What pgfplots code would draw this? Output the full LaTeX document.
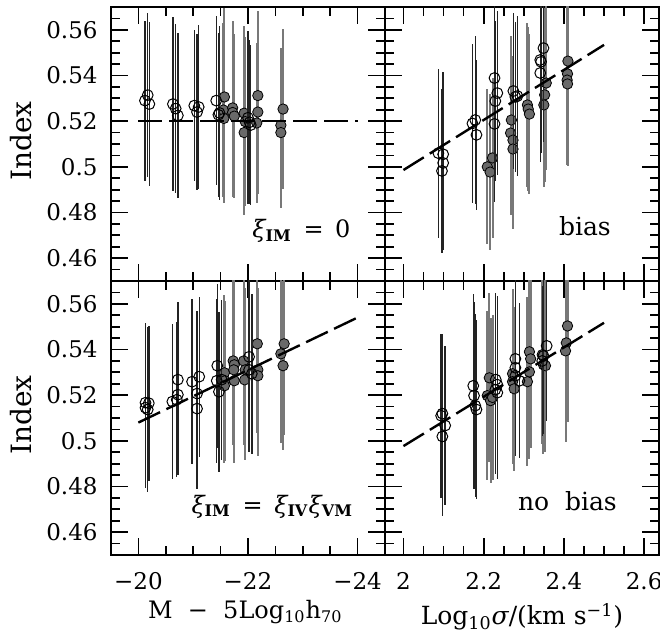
\documentclass[border=0pt]{standalone}
\usepackage{fontspec}
\setmainfont{DejaVu Serif}
\usepackage{pgfplots}
\usepackage{pgfplotstable}
\pgfplotsset{compat=1.18}

\definecolor{dotgray}{RGB}{105,105,105}
\definecolor{bargray}{RGB}{120,120,120}
\definecolor{bardark}{RGB}{35,35,35}

\newcommand\tfont{\fontsize{11.5}{13}\selectfont}

% top-left: xi_IM = 0
\pgfplotstableread{
x y e
-20.17 0.5314 0.036
-20.20 0.5275 0.036
-20.12 0.5290 0.035
-20.63 0.5275 0.038
-20.68 0.5255 0.037
-20.72 0.5225 0.036
-21.02 0.5268 0.033
-21.10 0.5262 0.036
-21.07 0.5240 0.034
-21.42 0.5290 0.037
-21.48 0.5236 0.038
-21.46 0.5228 0.036
-22.00 0.5215 0.038
-22.03 0.5195 0.036
-22.05 0.5183 0.035
}\tlo
\pgfplotstableread{
x y e
-21.57 0.5306 0.039
-21.55 0.5249 0.038
-21.56 0.5212 0.037
-21.72 0.5258 0.038
-21.72 0.5238 0.037
-21.75 0.5222 0.036
-21.93 0.5235 0.038
-21.95 0.5198 0.037
-21.93 0.5150 0.036
-22.18 0.5312 0.037
-22.18 0.5240 0.036
-22.16 0.5192 0.035
-22.64 0.5253 0.035
-22.60 0.5182 0.034
-22.60 0.5150 0.033
}\tlf
% top-right: bias
\pgfplotstableread{
x y e
2.087 0.5060 0.037
2.099 0.5055 0.036
2.099 0.5017 0.038
2.096 0.4982 0.036
2.172 0.5190 0.035
2.179 0.5205 0.037
2.182 0.5140 0.033
2.227 0.5389 0.037
2.234 0.5323 0.036
2.229 0.5288 0.035
2.227 0.5188 0.034
2.274 0.5332 0.034
2.284 0.5310 0.035
2.279 0.5306 0.033
2.349 0.5520 0.041
2.341 0.5468 0.040
2.343 0.5460 0.040
2.341 0.5411 0.039
}\tro
\pgfplotstableread{
x y e
2.209 0.5000 0.034
2.216 0.4977 0.034
2.222 0.5039 0.035
2.269 0.5205 0.037
2.267 0.5148 0.036
2.273 0.5117 0.037
2.273 0.5078 0.035
2.309 0.5271 0.036
2.311 0.5253 0.036
2.314 0.5231 0.035
2.356 0.5367 0.038
2.352 0.5315 0.038
2.350 0.5271 0.036
2.410 0.5463 0.040
2.409 0.5407 0.038
2.408 0.5380 0.037
2.409 0.5363 0.036
}\trf
% bottom-left: xi_IM = xi_IV xi_VM
\pgfplotstableread{
x y e
-20.13 0.5167 0.035
-20.19 0.5165 0.034
-20.13 0.5145 0.035
-20.17 0.5137 0.036
-20.62 0.5172 0.034
-20.70 0.5180 0.034
-20.72 0.5202 0.035
-20.72 0.5268 0.034
-20.98 0.5259 0.036
-21.11 0.5281 0.035
-21.07 0.5207 0.036
-21.07 0.5141 0.035
-21.44 0.5329 0.036
-21.43 0.5263 0.036
-21.47 0.5215 0.035
-21.52 0.5268 0.035
-22.02 0.5368 0.036
-22.02 0.5311 0.036
-22.07 0.5294 0.035
}\blo
\pgfplotstableread{
x y e
-21.57 0.5298 0.034
-21.58 0.5263 0.035
-21.57 0.5241 0.034
-21.73 0.5350 0.037
-21.75 0.5333 0.037
-21.74 0.5311 0.036
-21.75 0.5263 0.036
-21.92 0.5350 0.037
-21.95 0.5311 0.036
-21.94 0.5267 0.035
-22.17 0.5425 0.039
-22.18 0.5311 0.036
-22.18 0.5285 0.035
-22.66 0.5425 0.040
-22.60 0.5381 0.039
-22.64 0.5329 0.037
}\blf
% bottom-right: no bias
\pgfplotstableread{
x y e
2.097 0.5119 0.035
2.094 0.5110 0.036
2.104 0.5067 0.035
2.097 0.5019 0.035
2.174 0.5241 0.040
2.176 0.5198 0.041
2.179 0.5154 0.040
2.182 0.5137 0.039
2.230 0.5268 0.038
2.234 0.5246 0.039
2.234 0.5211 0.038
2.229 0.5224 0.037
2.279 0.5359 0.035
2.279 0.5320 0.036
2.279 0.5285 0.035
2.289 0.5263 0.034
2.357 0.5416 0.033
2.349 0.5372 0.034
2.346 0.5350 0.033
}\bro
\pgfplotstableread{
x y e
2.214 0.5276 0.037
2.209 0.5198 0.037
2.217 0.5176 0.036
2.222 0.5190 0.036
2.272 0.5294 0.037
2.272 0.5259 0.036
2.276 0.5228 0.036
2.314 0.5390 0.039
2.317 0.5359 0.039
2.314 0.5302 0.038
2.309 0.5259 0.037
2.346 0.5377 0.039
2.349 0.5333 0.039
2.354 0.5329 0.038
2.409 0.5503 0.042
2.406 0.5429 0.041
2.404 0.5394 0.040
}\brf

\pgfplotsset{
  panel/.style={
    scale only axis, width=137pt, height=137pt,
    ymin=0.45, ymax=0.57,
    ytick={0.46,0.48,0.50,0.52,0.54,0.56},
    minor ytick={0.455,0.465,0.47,0.475,0.485,0.49,0.495,0.505,0.51,0.515,0.525,0.53,0.535,0.545,0.55,0.555,0.565},
    tick align=inside, xtick pos=both, ytick pos=both,
    major tick length=8.5pt, minor tick length=4.5pt,
    axis line style={line width=1.2pt},
    every tick/.style={black, line width=0.85pt},
    tick label style={font=\tfont},
    clip mode=individual,
  },
  lpanel/.style={panel, x dir=reverse, xmin=-24.5, xmax=-19.5,
    xtick={-20,-22,-24},
    minor xtick={-20.5,-21,-21.5,-22.5,-23,-23.5}},
  rpanel/.style={panel, xmin=1.954, xmax=2.637,
    xtick={2.0,2.2,2.4,2.6},
    minor xtick={2.05,2.1,2.15,2.25,2.3,2.35,2.45,2.5,2.55},
    yticklabels={}},
  ylab/.style={ylabel={Index},
    ylabel style={font=\fontsize{14}{16}\selectfont, at={(axis description cs:0,0.51)}, anchor=base, yshift=39.5pt},
    yticklabels={0.46,0.48,0.5,0.52,0.54,0.56},
    yticklabel style={xshift=-3.2pt}},
  fillpts/.style={only marks, mark=*, mark size=2.6pt, mark options={draw=none, fill=dotgray},
    error bars/.cd, y dir=both, y explicit, error mark=none,
    error bar style={line width=1pt, color=bargray}},
  openpts/.style={only marks, mark=o, mark size=2.7pt, mark options={draw=black, line width=0.5pt},
    error bars/.cd, y dir=both, y explicit, error mark=none,
    error bar style={line width=0.7pt, color=bardark}},
  fitline/.style={black, line width=1.2pt, dash pattern=on 12pt off 3.5pt},
}

\begin{document}
\begin{tikzpicture}
\path[use as bounding box] (-55.5pt,-38pt) rectangle (274.5pt,277.5pt);

% top-left
\begin{axis}[lpanel, ylab, at={(0,137pt)}, xticklabels={}]
\addplot[fillpts] table[x=x, y=y, y error=e] {\tlf};
\addplot[openpts] table[x=x, y=y, y error=e] {\tlo};
\addplot[fitline] coordinates {(-20,0.52) (-24,0.52)};
\node[anchor=base east, font=\fontsize{12}{14}\selectfont] at (rel axis cs:0.9,0.157)
  {{\itshape ξ}\textsubscript{\textbf{IM}}\ \,=\ \,0};
\end{axis}

% top-right
\begin{axis}[rpanel, at={(137pt,137pt)}, xticklabels={}]
\addplot[fillpts] table[x=x, y=y, y error=e] {\trf};
\addplot[openpts] table[x=x, y=y, y error=e] {\tro};
\addplot[fitline] coordinates {(2.0,0.4986) (2.5,0.5534)};
\node[anchor=base east, font=\fontsize{12.5}{14}\selectfont] at (rel axis cs:0.85,0.165) {bias};
\end{axis}

% bottom-left
\begin{axis}[lpanel, ylab, at={(0,0)},
  xticklabels={−20,−22,−24},
  xticklabel style={yshift=-5.2pt},
  xlabel={M\ \ −\ \ 5Log\textsubscript{10}h\textsubscript{70}},
  xlabel style={font=\fontsize{12}{14}\selectfont, at={(axis description cs:0.49,0)}, anchor=base, yshift=-32pt}]
\addplot[fillpts] table[x=x, y=y, y error=e] {\blf};
\addplot[openpts] table[x=x, y=y, y error=e] {\blo};
\addplot[fitline] coordinates {(-20,0.508) (-24,0.554)};
\node[anchor=base east, font=\fontsize{12}{14}\selectfont] at (rel axis cs:0.909,0.153)
  {{\itshape ξ}\textsubscript{\textbf{IM}}\ \,=\ \,{\itshape ξ}\textsubscript{\textbf{IV}}{\itshape ξ}\textsubscript{\textbf{VM}}};
\end{axis}

% bottom-right
\begin{axis}[rpanel, at={(137pt,0)},
  xticklabels={2,2.2,2.4,2.6},
  xticklabel style={yshift=-5.2pt},
  xlabel={Log\textsubscript{10}{\itshape σ}/(km s\textsuperscript{−1})},
  xlabel style={font=\fontsize{12.5}{14}\selectfont, at={(axis description cs:0.5,0)}, anchor=base, yshift=-35pt}]
\addplot[fillpts] table[x=x, y=y, y error=e] {\brf};
\addplot[openpts] table[x=x, y=y, y error=e] {\bro};
\addplot[fitline] coordinates {(2.0,0.4977) (2.5,0.5517)};
\node[anchor=base east, font=\fontsize{12.5}{14}\selectfont] at (rel axis cs:0.872,0.164) {no\ \ bias};
\end{axis}
\end{tikzpicture}
\end{document}
